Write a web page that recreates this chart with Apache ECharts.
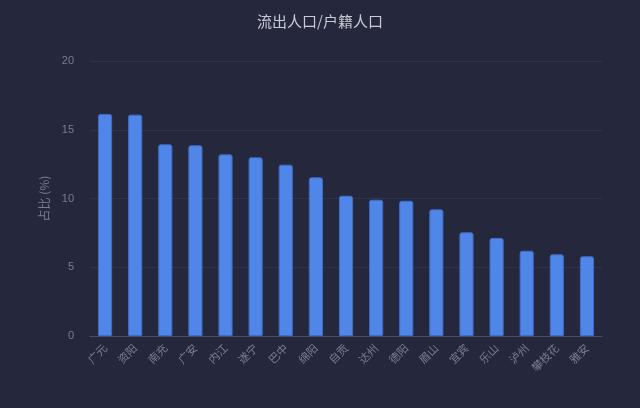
<!DOCTYPE html>
<html><head><meta charset="utf-8">
<script src="https://cdn.jsdelivr.net/npm/echarts@6/dist/echarts.min.js"></script>
<style>html,body{margin:0;padding:0;background:#25273c;}#c{width:640px;height:408px;}</style>
</head><body><div id="c"></div>
<script>
const categories = ['广元','资阳','南充','广安','内江','遂宁','巴中','绵阳','自贡','达州','德阳','眉山','宜宾','乐山','泸州','攀枝花','雅安'];
const values = [16.15,16.1,13.94,13.87,13.21,13.0,12.46,11.54,10.2,9.91,9.84,9.21,7.54,7.13,6.2,5.94,5.8];
const chart = echarts.init(document.getElementById('c'));
chart.setOption({
  backgroundColor:'#25273c',
  title:{text:'流出人口/户籍人口',left:'center',top:9,textStyle:{color:'#c8cad6',fontSize:15,fontWeight:'normal',fontFamily:'Noto Sans CJK SC'}},
  grid:{left:90,right:38,top:61,bottom:72},
  xAxis:{type:'category',data:categories,
    axisLine:{lineStyle:{color:'#4a4d62'}},axisTick:{show:false},
    axisLabel:{rotate:45,color:'#7b7e90',fontSize:11,interval:0,fontFamily:'Noto Sans CJK SC',margin:10}},
  yAxis:{type:'value',min:0,max:20,interval:5,name:'占比 (%)',nameLocation:'middle',nameGap:27,
    nameTextStyle:{color:'#7b7e90',fontSize:12,fontFamily:'Noto Sans CJK SC'},
    axisLine:{show:false},axisTick:{show:false},
    axisLabel:{color:'#7b7e90',fontSize:11,margin:16},
    splitLine:{lineStyle:{color:'#30334a'}}},
  series:[{type:'bar',data:values,barWidth:'47%',
    itemStyle:{color:'#5086e8',borderColor:'#3f6cc4',borderWidth:1,borderRadius:[2,2,0,0]}}]
});
</script></body></html>
